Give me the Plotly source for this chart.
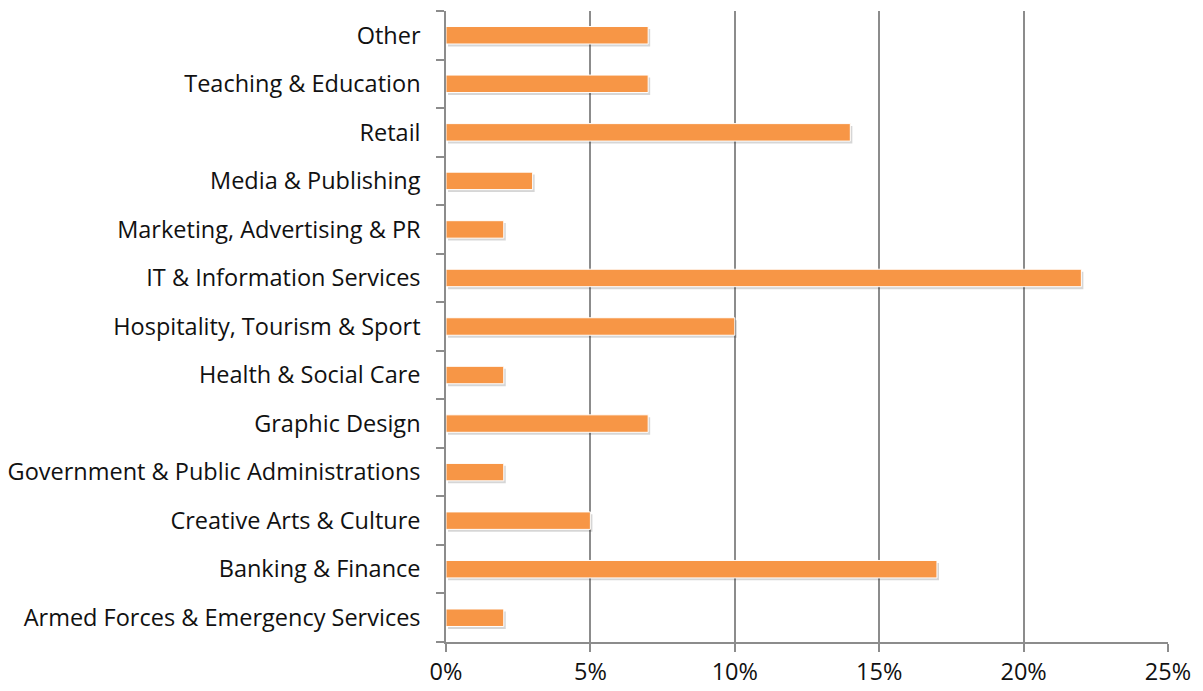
import plotly.graph_objects as go

categories = [
    "Armed Forces & Emergency Services",
    "Banking & Finance",
    "Creative Arts & Culture",
    "Government & Public Administrations",
    "Graphic Design",
    "Health & Social Care",
    "Hospitality, Tourism & Sport",
    "IT & Information Services",
    "Marketing, Advertising & PR",
    "Media & Publishing",
    "Retail",
    "Teaching & Education",
    "Other",
]
shares = [0.02, 0.17, 0.05, 0.02, 0.07, 0.02, 0.10, 0.22, 0.02, 0.03, 0.14, 0.07, 0.07]

AXIS_GREY = "#8c8c8c"
BAR_W = 0.36

fig = go.Figure()
# soft drop shadow under each bar, like the Excel style
fig.add_trace(go.Bar(
    x=shares,
    y=categories,
    orientation="h",
    base=0.0007,
    width=BAR_W,
    offset=-BAR_W / 2 - 0.05,
    marker=dict(color="rgba(0,0,0,0.16)", line=dict(width=0)),
    hoverinfo="skip",
))
fig.add_trace(go.Bar(
    x=shares,
    y=categories,
    orientation="h",
    width=BAR_W,
    marker=dict(color="#F79646", line=dict(color="white", width=1)),
))

# page body has an 8px margin, so the figure is drawn a little smaller
fig.update_layout(
    width=1195,
    height=683,
    margin=dict(l=438, r=35, t=3, b=49),
    paper_bgcolor="white",
    plot_bgcolor="white",
    font=dict(family="Open Sans", size=23.5, color="#111111"),
    showlegend=False,
    barmode="overlay",
)
fig.update_xaxes(
    range=[0, 0.25],
    tickvals=[0, 0.05, 0.10, 0.15, 0.20, 0.25],
    tickformat=".0%",
    showgrid=True,
    gridcolor=AXIS_GREY,
    gridwidth=1.5,
    showline=True,
    linecolor=AXIS_GREY,
    linewidth=1.5,
    ticks="outside",
    ticklen=8,
    tickcolor=AXIS_GREY,
    tickwidth=1.5,
    zeroline=False,
    automargin=False,
)
fig.update_yaxes(
    type="category",
    categoryorder="array",
    categoryarray=categories,
    tickson="boundaries",
    ticks="outside",
    ticklen=8,
    tickcolor=AXIS_GREY,
    tickwidth=1.5,
    showline=True,
    linecolor=AXIS_GREY,
    linewidth=1.5,
    showgrid=False,
    ticklabelstandoff=19,
    automargin=False,
)

fig.write_html("out.html")
